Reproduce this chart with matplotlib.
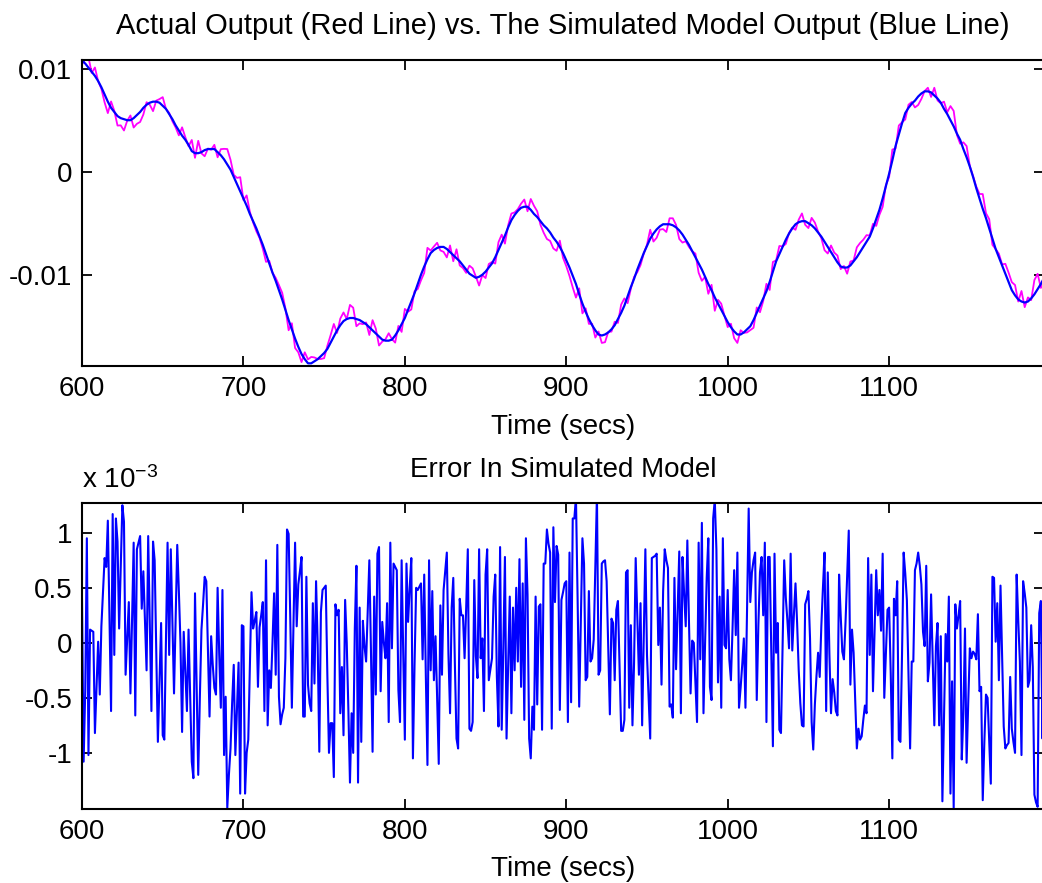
import numpy as np
import matplotlib
matplotlib.use("Agg")
import matplotlib.pyplot as plt

# simulated model output, x1e-3, one value every 2 s from 600 s
model = [
    10.8, 10.5, 10.1, 9.7, 9.3, 8.8, 8.2, 7.5, 6.8, 6.2,
    5.8, 5.4, 5.2, 5.1, 5.0, 5.0, 5.2, 5.5, 5.8, 6.2,
    6.5, 6.7, 6.8, 6.8, 6.7, 6.4, 6.1, 5.6, 5.1, 4.5,
    4.0, 3.5, 3.1, 2.6, 2.0, 1.8, 1.8, 1.9, 2.1, 2.2,
    2.2, 2.2, 1.9, 1.6, 1.2, 0.7, 0.2, -0.5, -1.2, -1.9,
    -2.6, -3.3, -4.1, -4.8, -5.5, -6.3, -7.1, -8.0, -8.9, -9.8,
    -10.6, -11.5, -12.4, -13.4, -14.4, -15.3, -16.2, -17.0, -17.7, -18.2,
    -18.6, -18.6, -18.4, -18.2, -17.9, -17.6, -17.2, -16.6, -16.0, -15.4,
    -14.9, -14.5, -14.3, -14.2, -14.2, -14.3, -14.4, -14.6, -14.8, -15.1,
    -15.4, -15.7, -16.0, -16.3, -16.4, -16.4, -16.3, -15.9, -15.4, -14.8,
    -14.2, -13.4, -12.6, -11.8, -10.9, -10.0, -9.2, -8.5, -7.9, -7.6,
    -7.4, -7.3, -7.3, -7.5, -7.8, -8.1, -8.4, -8.7, -9.1, -9.5,
    -9.9, -10.1, -10.3, -10.2, -10.0, -9.7, -9.3, -8.9, -8.3, -7.6,
    -6.9, -6.2, -5.4, -4.7, -4.2, -3.8, -3.5, -3.4, -3.4, -3.7,
    -4.1, -4.4, -4.8, -5.2, -5.5, -5.9, -6.4, -6.8, -7.3, -7.9,
    -8.6, -9.3, -10.1, -10.9, -11.9, -12.8, -13.6, -14.3, -14.9, -15.4,
    -15.8, -15.9, -15.8, -15.6, -15.3, -14.9, -14.3, -13.7, -13.0, -12.1,
    -11.2, -10.4, -9.5, -8.7, -7.9, -7.2, -6.5, -6.0, -5.6, -5.3,
    -5.1, -5.1, -5.1, -5.2, -5.4, -5.7, -6.1, -6.6, -7.1, -7.7,
    -8.3, -8.9, -9.5, -10.2, -10.9, -11.5, -12.2, -12.8, -13.4, -14.0,
    -14.6, -15.1, -15.5, -15.8, -15.8, -15.6, -15.3, -15.0, -14.4, -13.7,
    -13.0, -12.3, -11.6, -10.7, -9.7, -8.7, -8.0, -7.3, -6.6, -6.0,
    -5.5, -5.1, -4.9, -4.8, -4.8, -5.0, -5.2, -5.5, -5.9, -6.3,
    -6.8, -7.3, -7.8, -8.3, -8.8, -9.2, -9.3, -9.3, -9.1, -8.7,
    -8.3, -7.8, -7.3, -6.8, -6.3, -5.5, -4.6, -3.7, -2.6, -1.4,
    -0.2, 1.1, 2.5, 3.6, 4.7, 5.7, 6.2, 6.6, 6.9, 7.3,
    7.6, 7.8, 7.8, 7.7, 7.4, 7.1, 6.7, 6.1, 5.6, 5.0,
    4.4, 3.7, 3.1, 2.2, 1.4, 0.5, -0.5, -1.6, -2.6, -3.6,
    -4.5, -5.5, -6.5, -7.5, -8.3, -9.1, -9.9, -10.7, -11.5, -12.0,
    -12.4, -12.6, -12.7, -12.6, -12.3, -11.9, -11.4, -10.9, -10.3,
]

# model error, x1e-3, one value every 1 s from 600 s
err = [
    0.39, -1.08, -0.44, 0.95, -1.02, 0.12, 0.11, 0.10, -0.82, -0.40,
    0.01, -0.47, 0.15, 0.46, 0.77, 0.69, 1.11, 0.25, -0.62, 1.17,
    -0.11, 1.13, 0.92, 0.13, 0.70, 1.25, 1.10, -0.29, 0.05, 0.37,
    -0.46, 0.20, 0.91, -0.66, 0.85, 0.91, 0.97, 0.31, 0.65, 0.20,
    -0.25, 0.97, 0.20, -0.62, 0.92, 0.75, -0.10, -0.90, -0.35, 0.18,
    -0.84, -0.88, 0.00, 0.91, -0.11, 0.85, 0.20, -0.46, 0.20, 0.89,
    0.47, 0.00, -0.81, 0.10, -0.25, -0.62, 0.12, -0.50, -1.08, -1.23,
    0.45, -0.40, -1.20, -0.50, 0.12, 0.35, 0.60, 0.56, -0.05, -0.67,
    0.06, -0.20, -0.41, -0.47, 0.50, -0.10, -0.59, 0.48, -1.02, -0.49,
    -1.50, -1.20, -0.96, -0.55, -0.20, -1.02, -0.60, -0.18, -1.37, 0.16,
    0.15, -1.37, -1.00, -0.88, -0.20, 0.46, 0.13, 0.20, 0.28, -0.40,
    0.14, 0.25, 0.37, -0.62, 0.75, -0.75, -0.25, -0.41, 0.00, 0.45,
    -0.29, 0.89, -0.49, -0.74, -0.65, -0.59, -0.14, 1.03, 0.99, 0.24,
    -0.59, 0.15, 0.91, 0.15, 0.53, 0.65, 0.78, -0.67, -0.67, 0.60,
    -0.38, -0.55, -0.62, 0.36, -0.37, 0.56, -0.02, -0.99, 0.28, 0.48,
    0.50, 0.52, -0.30, -1.00, -0.73, -0.73, -1.22, 0.35, 0.25, 0.30,
    -0.64, -0.22, -0.84, 0.39, 0.00, -0.60, -1.27, -0.64, -1.00, 0.13,
    0.70, -1.27, 0.32, -0.90, 0.20, -0.03, -0.17, 0.30, 0.75, -0.07,
    -0.99, 0.42, -0.47, 0.81, 0.87, -0.44, 0.19, 0.00, -0.14, 0.36,
    -0.72, 0.91, -0.05, 0.72, 0.69, 0.66, -0.43, -0.72, 0.75, -0.10,
    -0.88, 0.72, 0.19, 0.50, 0.77, -1.05, -0.20, 0.50, 0.48, 0.51,
    0.54, -0.15, 0.62, -0.30, -1.11, 0.75, -0.25, 0.47, -0.34, 0.06,
    -0.50, -1.10, 0.34, -0.29, 0.48, 0.65, 0.82, -0.10, -0.64, 0.32,
    0.59, -0.20, -0.87, -0.96, 0.40, 0.25, 0.25, -0.14, 0.32, 0.85,
    -0.78, -0.80, -0.72, 0.57, -0.12, -0.32, 0.85, -0.14, 0.04, -0.62,
    0.62, 0.85, -0.34, -0.24, -0.14, 0.42, 0.62, -0.31, -0.76, 0.87,
    -0.79, -0.05, 0.78, -0.87, -0.20, 0.42, -0.64, 0.32, -0.25, 0.50,
    -0.17, 0.76, -0.40, 0.54, -0.70, 0.95, 0.44, -0.87, -1.05, -0.58,
    -0.79, 0.42, -0.56, 0.33, 0.35, -0.79, 0.72, 0.72, 1.03, 0.90,
    0.82, -0.78, 1.05, 0.37, 0.88, 0.80, -0.61, 0.39, 0.46, 0.54,
    0.56, -0.72, 0.82, -0.54, 1.13, 1.13, 1.32, 0.42, -0.58, 0.20,
    0.95, 0.72, -0.34, -0.31, 0.47, -0.17, -0.14, 0.03, 0.70, 1.35,
    -0.29, -0.25, 0.72, 0.74, 0.75, 0.56, -0.05, -0.65, 0.22, 0.18,
    -0.34, 0.30, 0.38, -0.20, -0.80, -0.80, -0.70, 0.64, 0.66, -0.59,
    0.16, -0.75, -0.18, 0.77, 0.25, -0.29, 0.36, -0.75, 0.05, 0.85,
    -0.11, -0.50, -0.87, 0.77, 0.78, 0.79, 0.81, -0.02, 0.32, -0.38,
    0.47, 0.85, 0.75, 0.68, -0.58, -0.56, -0.68, 0.59, -0.24, 0.30,
    0.83, -0.64, 0.78, 0.45, 0.15, 0.93, 0.20, -0.46, 0.02, 0.00,
    -0.35, -0.72, 0.91, -0.15, 1.09, -0.64, 0.00, 0.59, 0.95, -0.40,
    -0.52, 1.13, 1.30, 0.85, -0.36, 0.42, -0.59, 0.95, -0.02, -0.05,
    0.48, -0.15, -0.34, 0.13, 0.66, 0.07, 0.82, -0.59, -0.41, -0.20,
    0.04, -0.59, 0.30, 1.22, 0.37, 0.64, 0.75, 0.82, -0.52, 0.16,
    0.64, 0.78, 0.25, 0.91, -0.72, 0.78, 0.78, -0.10, -0.94, 0.81,
    -0.09, 0.18, -0.79, -0.82, -0.05, 0.75, 0.41, 0.20, -0.05, 0.81,
    -0.07, 0.25, 0.54, 0.18, -0.25, -0.55, -0.75, -0.76, 0.35, 0.40,
    0.47, 0.04, -0.72, -0.97, -0.56, -0.30, -0.09, -0.31, 0.15, 0.50,
    0.82, -0.62, 0.64, -0.10, -0.64, -0.33, -0.45, -0.62, -0.66, 0.62,
    0.25, -0.08, -0.15, 0.19, 0.60, 1.02, -0.38, 0.12, -0.09, -0.53,
    -0.96, -0.78, -0.88, -0.85, -0.70, -0.57, -0.64, 0.77, -0.11, 0.62,
    -0.44, 0.10, 0.66, 0.25, 0.48, 0.11, 0.81, -0.50, -0.10, 0.30,
    0.32, -0.28, -1.05, 0.40, 0.25, 0.56, -0.88, -0.90, -0.10, 0.82,
    0.63, 0.39, -0.30, -0.96, -0.17, -0.17, 0.66, 0.72, 0.82, 0.70,
    0.53, 0.10, -0.03, 0.70, -0.35, -0.18, 0.44, -0.15, -0.75, -0.03,
    0.18, -0.75, 0.06, -1.44, -0.70, 0.08, -0.17, 0.42, -1.37, -0.35,
    -1.50, 0.35, 0.13, 0.25, 0.38, -1.06, -0.65, 0.13, -1.09, -0.55,
    -0.05, -0.14, -0.08, -0.10, -0.15, 0.26, -0.44, -0.40, -1.43, -0.90,
    -0.47, -0.50, -0.90, -1.28, 0.60, 0.59, 0.01, 0.36, -0.34, 0.52,
    -0.10, -0.76, -0.96, -0.93, -0.91, -0.31, -0.78, -0.90, -1.00, 0.62,
    0.20, -0.17, -1.02, 0.56, 0.45, 0.32, -0.40, -0.34, 0.16, -0.22,
    -1.38, -1.45, -1.49, 0.27, 0.38, -0.87, 0.32,
]

xticks = [600, 700, 800, 900, 1000, 1100]
top_yticks = [-0.01, 0, 0.01]
top_ylabels = ["-0.01", "0", "0.01"]
bot_yticks = [-1, -0.5, 0, 0.5, 1]
bot_ylabels = ["-1", "-0.5", "0", "0.5", "1"]

plt.rcParams["font.family"] = ["Liberation Sans", "DejaVu Sans"]
plt.rcParams["mathtext.default"] = "regular"
FS = 20

model = np.array(model) * 1e-3
err = np.array(err)
t_model = 600 + 2 * np.arange(len(model))
t_err = 600 + np.arange(len(err))
# actual output = model output - error
actual = model - err[::2][:len(model)] * 1e-3


def style(ax):
    for s in ax.spines.values():
        s.set_linewidth(1.5)
    ax.tick_params(direction="in", length=7.5, width=1.3, top=True, right=True,
                   labelsize=FS, pad=7)
    ax.set_xticks(xticks)
    ax.set_xlim(600, 1196)


fig = plt.figure(figsize=(10.42, 8.83), dpi=100)

ax1 = fig.add_axes([0.0787, 0.5855, 0.9233, 0.3465])
ax1.plot(t_model, actual, color="#ff00ff", lw=1.3)
ax1.plot(t_model, model, color="#0000ff", lw=1.6)
style(ax1)
ax1.set_ylim(-0.01886, 0.01084)
ax1.set_yticks(top_yticks)
ax1.set_yticklabels(top_ylabels)
ax1.set_xlabel("Time (secs)", fontsize=FS, labelpad=9)
ax1.set_title("Actual Output (Red Line) vs. The Simulated Model Output (Blue Line)",
              fontsize=21, pad=19)

ax2 = fig.add_axes([0.0787, 0.0838, 0.9233, 0.3465])
ax2.plot(t_err, err, color="#0000ff", lw=1.5)
style(ax2)
ax2.set_ylim(-1.51, 1.27)
ax2.set_yticks(bot_yticks)
ax2.set_yticklabels(bot_ylabels)
ax2.set_xlabel("Time (secs)", fontsize=FS, labelpad=8)
ax2.set_title("Error In Simulated Model", fontsize=FS, pad=19)
ax2.text(0, 1.05, "x 10$^{-3}$", transform=ax2.transAxes, ha="left",
         va="baseline", fontsize=FS)

fig.savefig("out.png", dpi=100)
